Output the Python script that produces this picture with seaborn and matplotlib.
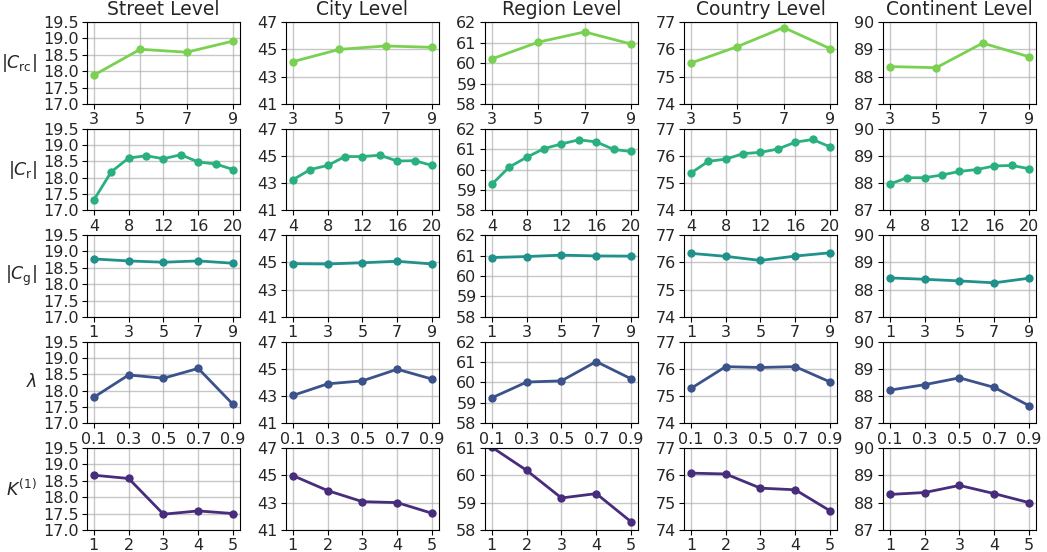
import numpy as np
import pandas as pd
import matplotlib
matplotlib.use("Agg")
import matplotlib.pyplot as plt
import seaborn as sns

levels = ["Street Level", "City Level", "Region Level", "Country Level", "Continent Level"]
row_labels = [r"$|C_{\mathrm{rc}}|$", r"$|C_{\mathrm{r}}|$", r"$|C_{\mathrm{g}}|$", r"$\lambda$", r"$K^{(1)}$"]

x_crc = [3, 5, 7, 9]
x_cr = [4, 6, 8, 10, 12, 14, 16, 18, 20]
x_cg = [1, 3, 5, 7, 9]
x_lam = [0.1, 0.3, 0.5, 0.7, 0.9]
x_k = [1, 2, 3, 4, 5]

xticks_crc = [3, 5, 7, 9]
xticks_cr = [4, 8, 12, 16, 20]
xticks_cg = [1, 3, 5, 7, 9]
xticks_lam = [0.1, 0.3, 0.5, 0.7, 0.9]
xticks_k = [1, 2, 3, 4, 5]

# rows: Crc, Cr, Cg, lambda, K ; columns: street, city, region, country, continent
crc_street = [17.88, 18.67, 18.58, 18.92]
crc_city = [44.1, 45.0, 45.25, 45.15]
crc_region = [60.2, 61.02, 61.52, 60.93]
crc_country = [75.5, 76.1, 76.8, 76.03]
crc_continent = [88.37, 88.33, 89.23, 88.73]

cr_street = [17.32, 18.18, 18.6, 18.67, 18.58, 18.7, 18.48, 18.42, 18.25]
cr_city = [43.25, 44.0, 44.3, 44.95, 44.95, 45.05, 44.62, 44.65, 44.3]
cr_region = [59.28, 60.12, 60.6, 61.02, 61.25, 61.45, 61.35, 60.98, 60.88]
cr_country = [75.37, 75.8, 75.88, 76.08, 76.13, 76.25, 76.5, 76.6, 76.33]
cr_continent = [87.97, 88.2, 88.2, 88.3, 88.43, 88.5, 88.63, 88.65, 88.53]

cg_street = [18.77, 18.71, 18.67, 18.71, 18.64]
cg_city = [44.9, 44.88, 44.97, 45.08, 44.88]
cg_region = [60.9, 60.95, 61.02, 60.98, 60.97]
cg_country = [76.33, 76.22, 76.07, 76.23, 76.35]
cg_continent = [88.43, 88.38, 88.32, 88.25, 88.42]

lam_street = [17.8, 18.48, 18.38, 18.68, 17.58]
lam_city = [43.05, 43.9, 44.12, 44.97, 44.25]
lam_region = [59.25, 60.02, 60.08, 61.02, 60.18]
lam_country = [75.28, 76.08, 76.05, 76.08, 75.52]
lam_continent = [88.22, 88.42, 88.67, 88.32, 87.65]

k_street = [18.67, 18.57, 17.48, 17.58, 17.5]
k_city = [44.98, 43.88, 43.07, 43.0, 42.22]
k_region = [61.03, 60.18, 59.17, 59.33, 58.3]
k_country = [76.08, 76.05, 75.53, 75.47, 74.7]
k_continent = [88.3, 88.37, 88.63, 88.33, 88.0]

yticks_street = [17.0, 17.5, 18.0, 18.5, 19.0, 19.5]
yticks_city = [41, 43, 45, 47]
yticks_region = [58, 59, 60, 61, 62]
yticks_region_k = [58, 59, 60, 61]
yticks_country = [74, 75, 76, 77]
yticks_continent = [87, 88, 89, 90]

row_colors = ["#7ad151", "#2ab07f", "#21918c", "#3b528b", "#472d7b"]

rows = [
    (x_crc, xticks_crc, [crc_street, crc_city, crc_region, crc_country, crc_continent]),
    (x_cr, xticks_cr, [cr_street, cr_city, cr_region, cr_country, cr_continent]),
    (x_cg, xticks_cg, [cg_street, cg_city, cg_region, cg_country, cg_continent]),
    (x_lam, xticks_lam, [lam_street, lam_city, lam_region, lam_country, lam_continent]),
    (x_k, xticks_k, [k_street, k_city, k_region, k_country, k_continent]),
]
col_yticks = [yticks_street, yticks_city, yticks_region, yticks_country, yticks_continent]

sns.set_style("white")
plt.rcParams['font.family'] = ['DejaVu Sans']

fig, axes = plt.subplots(5, 5, figsize=(10.47, 5.52), dpi=100)
fig.subplots_adjust(left=0.083, right=0.9895, top=0.960, bottom=0.040, wspace=0.30, hspace=0.30)

for r, (xs, xt, series) in enumerate(rows):
    for c, ys in enumerate(series):
        ax = axes[r, c]
        df = pd.DataFrame({"x": xs, "y": ys})
        sns.lineplot(data=df, x="x", y="y", ax=ax, color=row_colors[r], marker="o",
                     markersize=6, markeredgewidth=0, linewidth=2)
        yt = col_yticks[c]
        if r == 4 and c == 2:
            yt = yticks_region_k
        ax.set_ylim(yt[0], yt[-1])
        ax.set_yticks(yt)
        if c == 0:
            ax.set_yticklabels([f"{v:.1f}" for v in yt])
        span = xs[-1] - xs[0]
        ax.set_xlim(xs[0] - 0.05 * span, xs[-1] + 0.05 * span)
        ax.set_xticks(xt)
        if r == 3:
            ax.set_xticklabels([f"{v:.1f}" for v in xt])
        ax.grid(True, color="#b0b0b0", alpha=0.7, linewidth=1)
        ax.set_xlabel("")
        ax.set_ylabel("")
        ax.tick_params(axis="both", labelsize=11.5, length=3.5, width=0.8, color="black",
                       left=True, bottom=True, pad=2.5)
        for s in ax.spines.values():
            s.set_color("black")
            s.set_linewidth(0.8)
        if r == 0:
            ax.set_title(levels[c], fontsize=13.5, pad=5)
        if c == 0:
            ax.set_ylabel(row_labels[r], fontsize=12.5, rotation=0, labelpad=4, va="center", ha="right")

fig.savefig("out.png", dpi=100)
